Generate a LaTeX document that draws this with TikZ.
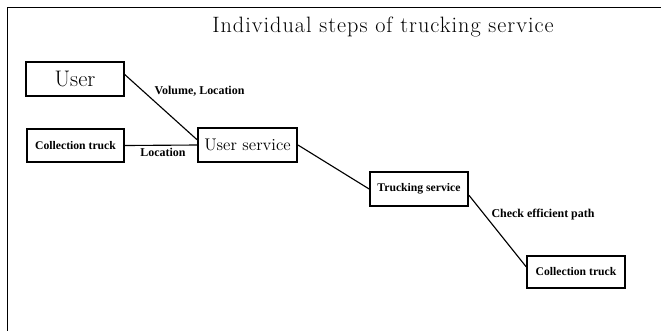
\documentclass[tikz,border=0pt]{standalone}
\usepackage{fontspec}
\newfontfamily\lblfont{Liberation Serif}
\newfontfamily\titlefont{Latin Modern Roman}[LetterSpace=4.5]
\usetikzlibrary{positioning}
\tikzset{
    boxbig/.style = {rectangle, very thick, draw=black, align=center, fill=white, inner sep=0pt, font=\fontsize{14}{16}\selectfont, text=black},
    boxsmall/.style = {rectangle, very thick, draw=black, align=center, fill=white, inner sep=0pt, font=\lblfont\bfseries\fontsize{8.3}{10}\selectfont, text=black},
    edgen/.style = {-, thick, black},
    edgelbl/.style = {font=\lblfont\bfseries\fontsize{8.5}{10}\selectfont, text=black},
    framen/.style = {-, thin, black}
}

\begin{document}
\begin{tikzpicture}[x=0.025cm, y=-0.025cm]
  \useasboundingbox (0,0) rectangle (661,331);
  % frame
  \draw[framen] (661,7) -- (7,7) -- (7,331);
  \node[font=\titlefont\fontsize{15.8}{18}\selectfont] (title) at (383,27) {Individual steps of trucking service};

  \node[boxbig, font=\fontsize{16}{18}\selectfont, minimum width=2.45cm, minimum height=0.85cm] (user) at (75,79) {User};
  \node[boxsmall, minimum width=2.43cm, minimum height=0.83cm] (ctruck) at (75.5,145.5) {Collection truck};
  \node[boxbig, font=\fontsize{12}{14}\selectfont, minimum width=2.48cm, minimum height=0.85cm] (uservice) at (247.5,145) {User service};
  \node[boxsmall, minimum width=2.45cm, minimum height=0.85cm] (tservice) at (419,189) {Trucking service};
  \node[boxsmall, minimum width=2.45cm, minimum height=0.8cm] (ctruckb) at (576,272) {Collection truck};

  \draw[edgen] (user.5) -- (uservice.174);
  \draw[edgen] (ctruck.east) -- (uservice.west);
  \draw[edgen] (uservice.east) -- (tservice.west);
  \draw[edgen] (tservice.-7) -- (ctruckb.174);

  \node[edgelbl] (lvol) at (199.5,91) {Volume, Location};
  \node[edgelbl] (lloc) at (163,152) {Location};
  \node[edgelbl] (lpath) at (543,215) {Check efficient path};
\end{tikzpicture}
\end{document}
